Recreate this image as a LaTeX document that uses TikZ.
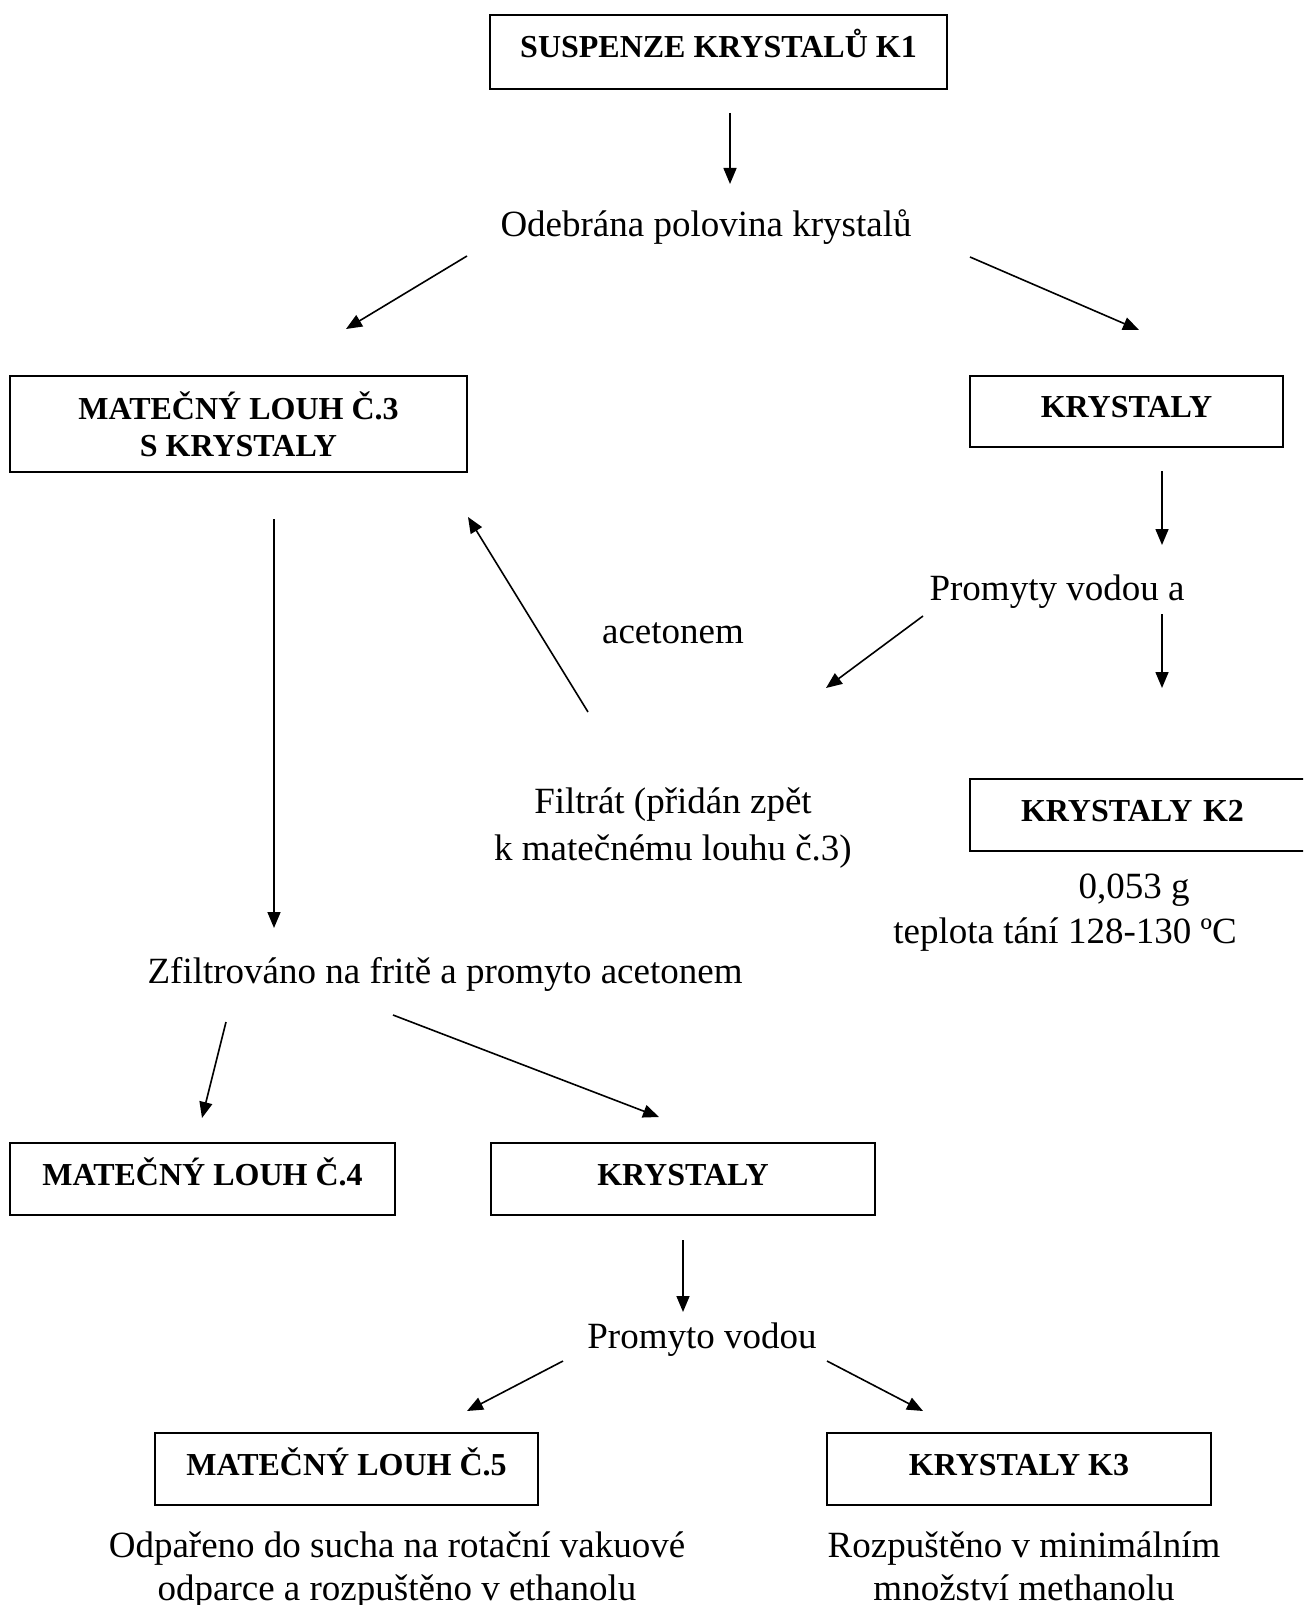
\documentclass[tikz,border=0pt]{standalone}
\usepackage{fontspec}
\setmainfont{Liberation Serif}
\usetikzlibrary{arrows.meta}
\begin{document}
\begin{tikzpicture}[x=1pt,y=-1pt,
  box/.style={draw, line width=1.6pt, font=\bfseries\fontsize{32}{37}\selectfont, align=center, inner sep=0pt},
  one/.style={text height=22pt, text depth=10pt},
  txt/.style={font=\fontsize{37}{47}\selectfont, align=center, inner sep=0pt, anchor=base},
  arr/.style={line width=1.6pt, -{Triangle[length=16pt,width=13pt]}}]
\useasboundingbox (0,0) rectangle (1303,1605);
\clip (0,0) rectangle (1303,1605);
\fill[white] (0,0) rectangle (1303,1605);
% boxes
\node[box, one, minimum width=457pt, minimum height=74pt] (k1) at (718.5,52) {SUSPENZE KRYSTALŮ K1};
\node[box, minimum width=457pt, minimum height=96pt] (m3) at (238.5,424) {MATEČNÝ LOUH Č.3\\S KRYSTALY};
\node[box, one, minimum width=313pt, minimum height=71pt] (kr1) at (1126.5,411.5) {KRYSTALY};
\node[box, one, minimum width=350pt, minimum height=72pt, text width=330pt] (k2) at (1145,815) {\hspace*{-25pt}KRYSTALY K2};
\node[box, one, minimum width=385pt, minimum height=72pt] (m4) at (202.5,1179) {MATEČNÝ LOUH Č.4};
\node[box, one, minimum width=384pt, minimum height=72pt] (kr2) at (683,1179) {KRYSTALY};
\node[box, one, minimum width=383pt, minimum height=72pt] (m5) at (346.5,1469) {MATEČNÝ LOUH Č.5};
\node[box, one, minimum width=384pt, minimum height=72pt] (k3) at (1019,1469) {KRYSTALY K3};
% texts (positioned by last baseline)
\node[txt] (odb) at (706,237) {Odebrána polovina krystalů};
\node[txt] (prom) at (1057,600) {Promyty vodou a};
\node[txt] (acet) at (673,643) {acetonem};
\node[txt] (filt) at (673,860) {Filtrát (přidán zpět\\k matečnému louhu č.3)};
\node[txt] (k2a) at (1134,898) {0,053 g};
\node[txt] (k2b) at (1065,943) {teplota tání 128-130 ºC};
\node[txt] (zfil) at (445,983) {Zfiltrováno na fritě a promyto acetonem};
\node[txt] (prv) at (702,1348) {Promyto vodou};
\node[txt, font=\fontsize{37}{43}\selectfont] (odp) at (397,1600) {Odpařeno do sucha na rotační vakuové\\odparce a rozpuštěno v ethanolu};
\node[txt, font=\fontsize{37}{43}\selectfont] (roz) at (1024,1600) {Rozpuštěno v minimálním\\množství methanolu};
% arrow end points
\coordinate (a1s) at (730,113); \coordinate (a1e) at (730,184);
\coordinate (a2s) at (467,256); \coordinate (a2e) at (346,329);
\coordinate (a3s) at (970,257); \coordinate (a3e) at (1139,330);
\coordinate (a4s) at (1162,471); \coordinate (a4e) at (1162,545);
\coordinate (a5s) at (1162,614); \coordinate (a5e) at (1162,688);
\coordinate (a6s) at (923,616); \coordinate (a6e) at (826,688);
\coordinate (a7s) at (588,712); \coordinate (a7e) at (468,517);
\coordinate (a8s) at (274,519); \coordinate (a8e) at (274,928);
\coordinate (a9s) at (226,1022); \coordinate (a9e) at (202,1118);
\coordinate (a10s) at (393,1015); \coordinate (a10e) at (659,1117);
\coordinate (a11s) at (683,1240); \coordinate (a11e) at (683,1312);
\coordinate (a12s) at (563,1361); \coordinate (a12e) at (467,1411);
\coordinate (a13s) at (827,1361); \coordinate (a13e) at (923,1411);
\foreach \i in {1,...,13} \draw[arr] (a\i s) -- (a\i e);
\end{tikzpicture}
\end{document}
